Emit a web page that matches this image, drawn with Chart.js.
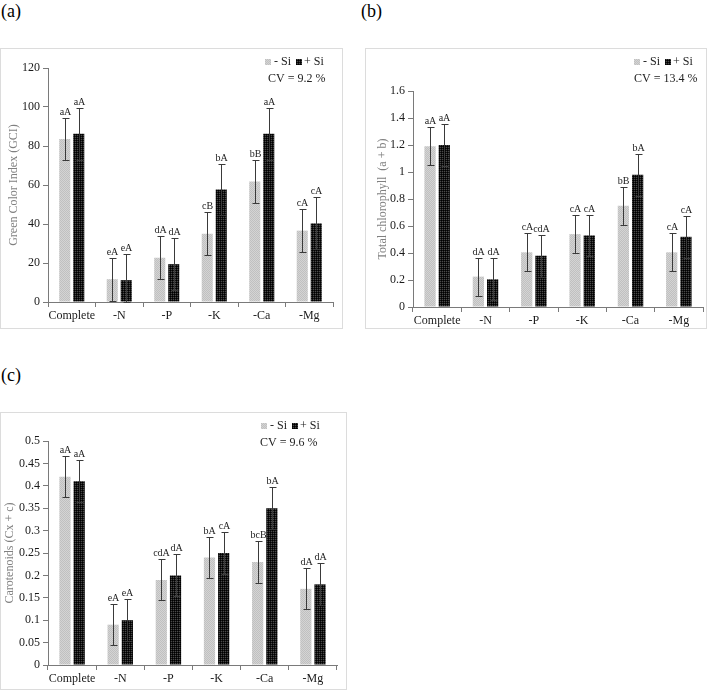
<!DOCTYPE html>
<html>
<head>
<meta charset="utf-8">
<script src="https://cdn.jsdelivr.net/npm/chart.js@4.4.1/dist/chart.umd.min.js"></script>
<style>
    body { margin: 0; background: #fff; width: 708px; height: 691px; position: relative; overflow: hidden; font-family: "Liberation Serif", serif; }
    .tag { position: absolute; font-size: 18px; color: #000; line-height: 1; }
    .box { position: absolute; border: 1px solid #dcdcdc; box-sizing: border-box; }
    .box canvas { position: absolute; left: -1px; top: -1px; }
</style>
</head>
<body>
<div class="tag" style="left:1px; top:2px">(a)</div>
<div class="tag" style="left:361px; top:2px">(b)</div>
<div class="tag" style="left:1px; top:366px">(c)</div>

<div class="box" style="left:0; top:48px; width:343px; height:281px"><canvas id="chartGCI" width="343" height="281"></canvas></div>
<div class="box" style="left:365px; top:48px; width:342px; height:281px"><canvas id="chartChl" width="342" height="281"></canvas></div>
<div class="box" style="left:0; top:412px; width:347px; height:278px"><canvas id="chartCar" width="347" height="278"></canvas></div>

<script>
// Data for the charts
const categories = ["Complete", "-N", "-P", "-K", "-Ca", "-Mg"];

const gciMinusSi = [83.6, 11.7, 22.7, 35.0, 61.8, 36.6];
const gciPlusSi = [86.3, 11.2, 19.4, 57.7, 86.3, 40.3];
const gciMinusErr = [11, 11, 11, 11, 11, 11];
const gciPlusErr = [13.3, 13.3, 13.3, 13.3, 13.3, 13.3];
const gciMinusLetters = ["aA", "eA", "dA", "cB", "bB", "cA"];
const gciPlusLetters = ["aA", "eA", "dA", "bA", "aA", "cA"];

const chlMinusSi = [1.19, 0.225, 0.405, 0.54, 0.75, 0.405];
const chlPlusSi = [1.20, 0.205, 0.38, 0.53, 0.98, 0.52];
const chlMinusErr = [0.14, 0.14, 0.14, 0.14, 0.14, 0.14];
const chlPlusErr = [0.155, 0.155, 0.155, 0.155, 0.155, 0.155];
const chlMinusLetters = ["aA", "dA", "cA", "cA", "bB", "cA"];
const chlPlusLetters = ["aA", "dA", "cdA", "cA", "bA", "cA"];

const carMinusSi = [0.42, 0.09, 0.19, 0.24, 0.23, 0.17];
const carPlusSi = [0.41, 0.10, 0.20, 0.25, 0.35, 0.18];
const carMinusErr = [0.046, 0.046, 0.046, 0.046, 0.046, 0.046];
const carPlusErr = [0.047, 0.047, 0.047, 0.047, 0.047, 0.047];
const carMinusLetters = ["aA", "eA", "cdA", "bA", "bcB", "dA"];
const carPlusLetters = ["aA", "eA", "dA", "cA", "bA", "dA"];

const serif = "'Liberation Serif', 'Times New Roman', serif";

// Textured fills like the Excel bars
function makePattern(colors) {
    const c = document.createElement("canvas");
    c.width = 2; c.height = 2;
    const g = c.getContext("2d");
    colors.forEach((col, i) => {
        g.fillStyle = col;
        g.fillRect(i % 2, Math.floor(i / 2), 1, 1);
    });
    return g.createPattern(c, "repeat");
}
const greyFill = makePattern(["#c0c0c0", "#d4d4d4", "#d4d4d4", "#c0c0c0"]);
const blackFill = makePattern(["#000000", "#141414", "#141414", "#4a4a4a"]);

// Error bars plus significance letters
const errorBars = {
    id: "errorBars",
    afterDatasetsDraw(chart) {
        const ctx = chart.ctx;
        const y = chart.scales.y;
        ctx.save();
        chart.data.datasets.forEach((ds, i) => {
            chart.getDatasetMeta(i).data.forEach((bar, j) => {
                const v = ds.data[j];
                const top = Math.round(y.getPixelForValue(v + ds.err[j])) + 0.5;
                const bot = Math.round(y.getPixelForValue(Math.max(v - ds.err[j], 0))) + 0.5;
                const x = Math.round(bar.x) + 0.5;
                ctx.strokeStyle = "#3a3a3a";
                ctx.lineWidth = 1;
                ctx.beginPath();
                ctx.moveTo(x, top); ctx.lineTo(x, bot);
                ctx.moveTo(x - 3, top); ctx.lineTo(x + 4, top);
                ctx.moveTo(x - 3, bot); ctx.lineTo(x + 4, bot);
                ctx.stroke();
                ctx.fillStyle = "#222";
                ctx.font = "10px " + serif;
                ctx.textAlign = "center";
                ctx.textBaseline = "bottom";
                ctx.fillText(ds.letters[j], x, top - 1);
            });
        });
        ctx.restore();
    }
};

// Small legend and CV note in the corner
const cornerNote = {
    id: "cornerNote",
    afterDraw(chart) {
        const o = chart.options.plugins.cornerNote;
        const ctx = chart.ctx;
        ctx.save();
        ctx.font = "12px " + serif;
        ctx.textBaseline = "middle";
        ctx.textAlign = "left";
        ctx.fillStyle = greyFill;
        ctx.fillRect(o.x, o.y - 3, 6, 6);
        ctx.fillStyle = "#222";
        ctx.fillText("- Si", o.x + 9, o.y);
        const x2 = o.x + 9 + ctx.measureText("- Si").width + 5;
        ctx.fillStyle = blackFill;
        ctx.fillRect(x2, o.y - 3, 6, 6);
        ctx.fillStyle = "#222";
        ctx.fillText("+ Si", x2 + 8, o.y);
        ctx.fillText(o.cv, o.cvX, o.y + 17);
        ctx.restore();
    }
};

// Create charts
function createChart(canvasId, minus, plus, minusErr, plusErr, minusLetters, plusLetters, setup) {
    const ctx = document.getElementById(canvasId).getContext("2d");
    new Chart(ctx, {
        type: "bar",
        data: {
            labels: categories,
            datasets: [
                { label: "- Si", data: minus, err: minusErr, letters: minusLetters, backgroundColor: greyFill },
                { label: "+ Si", data: plus, err: plusErr, letters: plusLetters, backgroundColor: blackFill }
            ]
        },
        options: {
            responsive: false,
            animation: false,
            categoryPercentage: 0.59,
            barPercentage: 0.79,
            layout: { padding: setup.padding },
            plugins: {
                legend: { display: false },
                tooltip: { enabled: false },
                cornerNote: setup.note
            },
            scales: {
                x: {
                    grid: { display: true, drawOnChartArea: false, color: "#7a7a7a", tickLength: 5 },
                    border: { color: "#7a7a7a" },
                    ticks: {
                        color: "#1a1a1a", padding: 2, maxRotation: 0, minRotation: 0, autoSkip: false,
                        font: { family: serif, size: 12 }
                    },
                    afterFit: (s) => { s.height = setup.xHeight; }
                },
                y: {
                    min: 0,
                    max: setup.max,
                    grid: { display: true, drawOnChartArea: false, color: "#7a7a7a", tickLength: 5 },
                    border: { color: "#7a7a7a" },
                    ticks: {
                        stepSize: setup.step,
                        color: "#1a1a1a",
                        padding: 3,
                        font: { family: serif, size: 12 },
                        callback: (v) => String(+v.toFixed(2))
                    },
                    title: {
                        display: true,
                        text: setup.title,
                        color: "#808080",
                        font: { family: serif, size: 12 },
                        padding: { top: setup.titlePad, bottom: 0 }
                    },
                    afterFit: (s) => { s.width = 48; }
                }
            }
        },
        plugins: [errorBars, cornerNote]
    });
}

// Initialize charts
createChart("chartGCI", gciMinusSi, gciPlusSi, gciMinusErr, gciPlusErr, gciMinusLetters, gciPlusLetters, {
    max: 120, step: 20, title: "Green Color Index (GCI)", titlePad: 7, xHeight: 27,
    padding: { top: 20, right: 10, left: 0, bottom: 0 },
    note: { x: 265, y: 14, cv: "CV = 9.2 %", cvX: 268 }
});
createChart("chartChl", chlMinusSi, chlPlusSi, chlMinusErr, chlPlusErr, chlMinusLetters, chlPlusLetters, {
    max: 1.6, step: 0.2, title: "Total chlorophyll  (a + b)", titlePad: 11, xHeight: 22,
    padding: { top: 43, right: 4, left: 0, bottom: 0 },
    note: { x: 269, y: 14, cv: "CV = 13.4 %", cvX: 269 }
});
createChart("chartCar", carMinusSi, carPlusSi, carMinusErr, carPlusErr, carMinusLetters, carPlusLetters, {
    max: 0.5, step: 0.05, title: "Carotenoids (Cx + c)", titlePad: 3, xHeight: 25,
    padding: { top: 29, right: 10, left: 0, bottom: 0 },
    note: { x: 261, y: 14, cv: "CV = 9.6 %", cvX: 260 }
});
</script>
</body>
</html>
